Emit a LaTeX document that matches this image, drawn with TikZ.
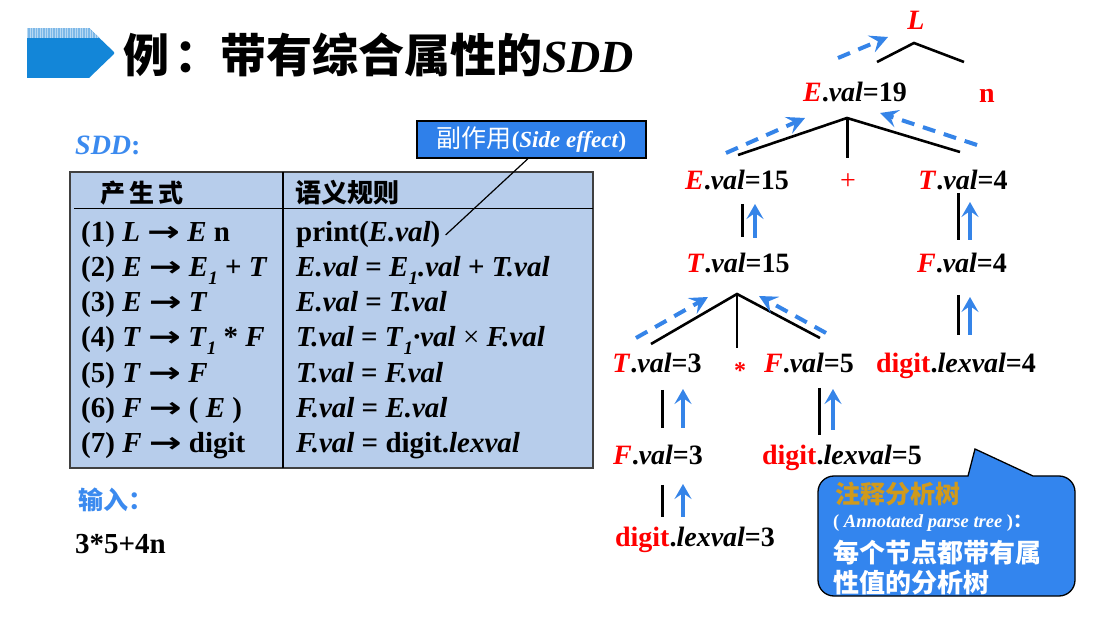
\documentclass[tikz,border=0pt]{standalone}
\usepackage{fontspec}
\setmainfont{Liberation Serif}
\newfontfamily\cjk{Noto Sans CJK SC}
\newfontfamily\arrowfont{DejaVu Sans}
\usetikzlibrary{arrows.meta}

\definecolor{flowblue}{HTML}{3584E8}
\definecolor{tablefill}{HTML}{B7CDEB}
\definecolor{boxblue}{HTML}{2F80EA}
\definecolor{calloutblue}{HTML}{3385EE}
\definecolor{callgold}{HTML}{D09A1C}
\definecolor{iconblue}{HTML}{1386D8}
\definecolor{iconlight}{HTML}{7DB8E8}
\definecolor{labelblue}{HTML}{3B8AEF}

\newcommand\rd[1]{\textcolor{red}{#1}}
\newcommand\attr[3]{\rd{\textit{#1}}.\textit{#2}=#3}
\newcommand\lexv[1]{\rd{digit}.\textit{lexval}=#1}
\newcommand\subone{\raisebox{-0.26em}{\fontsize{19}{19}\selectfont\textit{1}}}
\newcommand\ra{{\arrowfont\bfseries\fontsize{28}{30}\selectfont\scalebox{1.4}[1]{→}}}

\tikzset{
  tree/.style={font=\fontsize{28}{30}\selectfont\bfseries, inner sep=0pt, anchor=base},
  rowtext/.style={font=\fontsize{29}{30}\selectfont\bfseries, inner sep=0pt, anchor=base west},
  branch/.style={line width=2.6pt, black},
  tick/.style={line width=3pt, black},
  up/.style={flowblue, line width=3.5pt, -{Stealth[length=15pt,width=17pt,inset=6pt]}},
  flow/.style={flowblue, line width=4pt, dash pattern=on 13pt off 9pt,
    -{Stealth[length=18pt,width=18pt,inset=7pt]}},
  calltext/.style={inner sep=0pt, anchor=base west, text=white},
}

\begin{document}
\begin{tikzpicture}[x=1pt,y=-1pt]
\useasboundingbox (0,0) rectangle (1096,617);
\fill[white] (0,0) rectangle (1096,617);

% ---- title bar icon ----
\begin{scope}
  \clip (27,28) -- (89,28) -- (115,53) -- (89,78) -- (27,78) -- cycle;
  \fill[iconblue] (27,28) rectangle (115,78);
  \fill[iconlight] (27,28) rectangle (115,38.5);
  \draw[white, opacity=0.45, line width=0.5pt, step=2.5] (27,28) grid (115,38.5);
\end{scope}

% ---- title ----
\node[inner sep=0pt, anchor=base west] (title) at (123,73)
  {\cjk\bfseries\fontsize{46}{46}\selectfont 例\hspace{5pt}：带有综合属性的\rmfamily\bfseries\itshape SDD};

% ---- left labels ----
\node[inner sep=0pt, anchor=base west, text=labelblue] (sddlbl) at (75,155)
  {\fontsize{28}{30}\selectfont\bfseries\itshape SDD\upshape:};
\node[inner sep=0pt, anchor=base west, text=labelblue] (inlbl) at (78,510)
  {\cjk\bfseries\fontsize{25}{25}\selectfont 输入：};
\node[inner sep=0pt, anchor=base west] (input) at (75,554)
  {\fontsize{29}{30}\selectfont\bfseries 3*5+4n};

% ---- SDD table ----
\draw[fill=tablefill, draw=black!75, line width=1.8pt] (70,172) rectangle (593,468);
\draw[line width=1.8pt] (283,172) -- (283,468);
\draw[line width=1.5pt] (74,208.5) -- (593,208.5);
\node[inner sep=0pt, anchor=base west] (hprod) at (100,203)
  {\cjk\bfseries\fontsize{25}{25}\selectfont 产\,生\,式};
\node[inner sep=0pt, anchor=base west] (hrule) at (295,203)
  {\cjk\bfseries\fontsize{26}{26}\selectfont 语义规则};

\node[rowtext] (r1) at (81,242) {(1) \textit{L} \ra\ \textit{E} n};
\node[rowtext] (r2) at (81,277) {(2) \textit{E} \ra\ \textit{E}\subone\ + \textit{T}};
\node[rowtext] (r3) at (81,312) {(3) \textit{E} \ra\ \textit{T}};
\node[rowtext] (r4) at (81,347) {(4) \textit{T} \ra\ \textit{T}\subone\ * \textit{F}};
\node[rowtext] (r5) at (81,383) {(5) \textit{T} \ra\ \textit{F}};
\node[rowtext] (r6) at (81,418) {(6) \textit{F} \ra\ ( \textit{E} )};
\node[rowtext] (r7) at (81,453) {(7) \textit{F} \ra\ digit};

\node[rowtext] (p1) at (296,242) {print(\textit{E.val})};
\node[rowtext] (p2) at (296,277) {\textit{E.val} = \textit{E}\subone\textit{.val} + \textit{T.val}};
\node[rowtext] (p3) at (296,312) {\textit{E.val} = \textit{T.val}};
\node[rowtext] (p4) at (296,347) {\textit{T.val} = \textit{T}\subone\textit{·val} \mdseries×\bfseries\ \textit{F.val}};
\node[rowtext] (p5) at (296,383) {\textit{T.val} = \textit{F.val}};
\node[rowtext] (p6) at (296,418) {\textit{F.val} = \textit{E.val}};
\node[rowtext] (p7) at (296,453) {\textit{F.val} = digit.\textit{lexval}};

% ---- side-effect note ----
\node[draw=black, line width=1.3pt, fill=boxblue, text=white, minimum width=229pt,
      minimum height=37pt, inner sep=0pt] (se) at (531.5,139.5)
  {\cjk\fontsize{25}{25}\selectfont 副作用\rmfamily\bfseries\fontsize{23}{25}\selectfont(\textit{Side effect})};
\draw[line width=1.2pt] ([xshift=-3.5pt]se.south) -- ([xshift=5pt]p1.east);

% ---- annotated parse tree: nodes ----
\node[tree] (L) at (916,30) {\rd{\textit{L}}};
\node[tree] (E19) at (855,102) {\attr{E}{val}{19}};
\node[tree] (n) at (987,103) {\rd{n}};
\node[tree] (E15) at (737,190) {\attr{E}{val}{15}};
\node[tree, font=\fontsize{28}{30}\selectfont] (plus) at (848,190) {\rd{+}};
\node[tree] (T4) at (963,190) {\attr{T}{val}{4}};
\node[tree] (T15) at (738,273) {\attr{T}{val}{15}};
\node[tree] (F4) at (962,273) {\attr{F}{val}{4}};
\node[tree] (T3) at (657,373) {\attr{T}{val}{3}};
\node[tree, font=\fontsize{24}{26}\selectfont\bfseries] (star) at (740,379) {\rd{*}};
\node[tree] (F5) at (809,373) {\attr{F}{val}{5}};
\node[tree] (d4) at (956,373) {\lexv{4}};
\node[tree] (F3) at (658,465) {\attr{F}{val}{3}};
\node[tree] (d5) at (842,465) {\lexv{5}};
\node[tree] (d3) at (695,547) {\lexv{3}};

% ---- branches ----
\coordinate (Lapex) at (914,43);
\coordinate (Lleft) at (877,62);
\coordinate (Lright) at (964,62);
\draw[branch] (Lleft) -- (Lapex) -- (Lright);

\coordinate (Eapex) at (847,118);
\coordinate (Eleft) at (738,155);
\coordinate (Emid) at (847,158);
\coordinate (Eright) at (960,152);
\draw[branch] (Eleft) -- (Eapex) -- (Eright);
\draw[tick] (Eapex) -- (Emid);

\coordinate (Tapex) at (737,294);
\coordinate (Tleft) at (651,344);
\coordinate (Tmid) at (737,348);
\coordinate (Tright) at (820,338);
\draw[branch] (Tleft) -- (Tapex) -- (Tright);
\draw[branch] (Tapex) -- (Tmid);

% ---- unary links ----
\draw[tick] (742,204) -- (742,237);
\draw[tick] (958,193) -- (958,240);
\draw[tick] (958,295) -- (958,335);
\draw[tick] (662,390) -- (662,428);
\draw[tick] (819,388) -- (819,435);
\draw[tick] (662,485) -- (662,517);

% ---- value flow ----
\draw[up] (755,238) -- (755,204);
\draw[up] (970,240) -- (970,202);
\draw[up] (970,335) -- (970,297);
\draw[up] (683,428) -- (683,389);
\draw[up] (833,430) -- (833,389);
\draw[up] (683,517) -- (683,484);

\draw[flow] (838,58) -- (888,37);
\draw[flow] (726,153) -- (805,118);
\draw[flow] (977,145) -- (880,113);
\draw[flow] (636,338) -- (708,297);
\draw[flow] (826,333) -- (759,296);

% ---- callout ----
\draw[fill=calloutblue, draw=black, line width=1.3pt]
  (968,476) -- (975,449) -- (1033,476)
  [rounded corners=16pt] -- (1075,476) -- (1075,596) -- (818,596) -- (818,476)
  [sharp corners] -- cycle;
\node[calltext, text=callgold] (c1) at (835,504)
  {\cjk\bfseries\fontsize{25}{25}\selectfont 注释分析树};
\node[calltext] (c2) at (833,528)
  {\fontsize{18.5}{20}\selectfont\bfseries ( \textit{Annotated parse tree} )\cjk：};
\node[calltext] (c3) at (833,562)
  {\cjk\bfseries\fontsize{26}{26}\selectfont 每个节点都带有属};
\node[calltext] (c4) at (833,592)
  {\cjk\bfseries\fontsize{26}{26}\selectfont 性值的分析树};
\end{tikzpicture}
\end{document}
